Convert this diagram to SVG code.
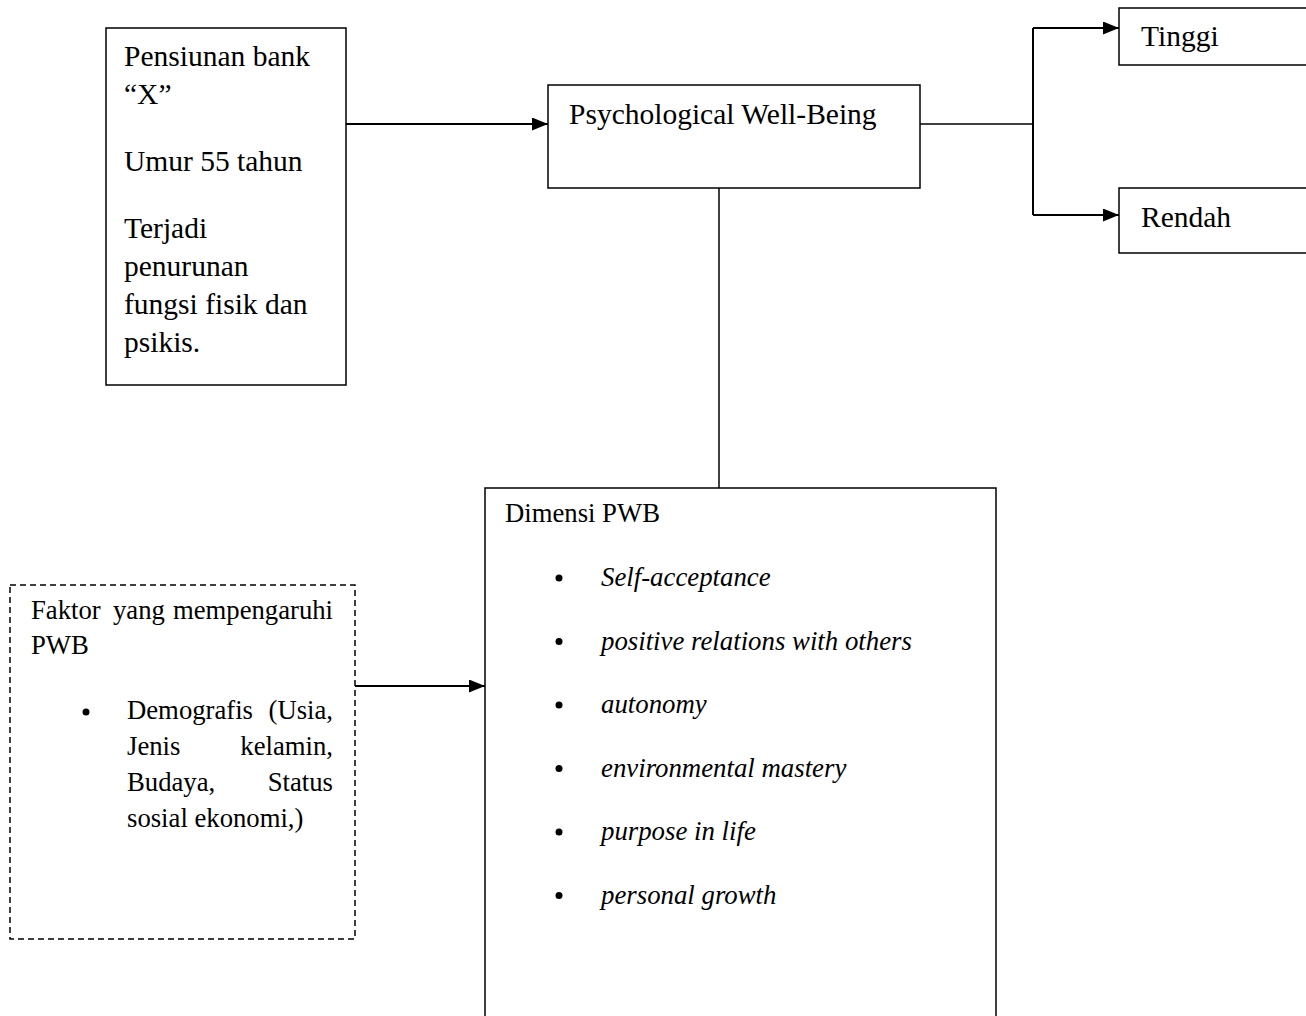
<svg xmlns="http://www.w3.org/2000/svg" width="1306" height="1016" viewBox="0 0 1306 1016">
<style>
.box{fill:#fff;stroke:#000;stroke-width:1.5}
.dash{fill:#fff;stroke:#000;stroke-width:1.5;stroke-dasharray:6 4}
.t{font-family:"Liberation Serif","Times New Roman",serif;font-size:29.5px;fill:#000}
.s{font-family:"Liberation Serif","Times New Roman",serif;font-size:26.7px;fill:#000}
.i{font-style:italic;font-size:26.8px}
.e{text-anchor:end}
.c{fill:none;stroke:#000;stroke-width:2}
</style>
<defs>
<marker id="arr" viewBox="0 0 16 13" refX="16" refY="6.5" markerWidth="16" markerHeight="13" markerUnits="userSpaceOnUse" orient="auto">
<path d="M0,0 L16,6.5 L0,13 Z" fill="#000"/>
</marker>
</defs>
<rect width="1306" height="1016" fill="#fff"/>
<g id="connectors">
<line class="c" x1="346" y1="124" x2="548" y2="124" marker-end="url(#arr)"/>
<line class="c" x1="920" y1="124" x2="1033" y2="124" style="stroke-width:1.5"/>
<line class="c" x1="1033" y1="28" x2="1033" y2="215"/>
<line class="c" x1="1033" y1="28" x2="1119" y2="28" marker-end="url(#arr)"/>
<line class="c" x1="1033" y1="215" x2="1119" y2="215" marker-end="url(#arr)"/>
<line class="c" x1="719" y1="188" x2="719" y2="488" style="stroke-width:1.5"/>
<line class="c" x1="355" y1="686" x2="485" y2="686" marker-end="url(#arr)"/>
</g>
<g id="pensiunan">
<rect class="box" x="106" y="28" width="240" height="357"/>
<text class="t" x="124" y="66">Pensiunan bank</text>
<text class="t" x="124" y="104">“X”</text>
<text class="t" x="124" y="171">Umur 55 tahun</text>
<text class="t" x="124" y="238">Terjadi</text>
<text class="t" x="124" y="276">penurunan</text>
<text class="t" x="124" y="314">fungsi fisik dan</text>
<text class="t" x="124" y="352">psikis.</text>
</g>
<g id="pwb">
<rect class="box" x="548" y="85" width="372" height="103"/>
<text class="t" x="569" y="124">Psychological Well-Being</text>
</g>
<g id="tinggi">
<rect class="box" x="1119" y="8" width="200" height="57"/>
<text class="t" x="1141" y="46">Tinggi</text>
</g>
<g id="rendah">
<rect class="box" x="1119" y="188" width="200" height="65"/>
<text class="t" x="1141" y="227">Rendah</text>
</g>
<g id="dimensi">
<rect class="box" x="485" y="488" width="511" height="560"/>
<text class="s" x="505" y="522">Dimensi PWB</text>
<g fill="#000">
<circle cx="559" cy="578" r="3.5"/>
<circle cx="559" cy="641.5" r="3.5"/>
<circle cx="559" cy="705" r="3.5"/>
<circle cx="559" cy="768.5" r="3.5"/>
<circle cx="559" cy="832" r="3.5"/>
<circle cx="559" cy="895.5" r="3.5"/>
</g>
<text class="s i" x="601" y="586">Self-acceptance</text>
<text class="s i" x="601" y="649.5">positive relations with others</text>
<text class="s i" x="601" y="713">autonomy</text>
<text class="s i" x="601" y="776.5">environmental mastery</text>
<text class="s i" x="601" y="840">purpose in life</text>
<text class="s i" x="601" y="903.5">personal growth</text>
</g>
<g id="faktor">
<rect class="dash" x="10" y="585" width="345" height="354"/>
<text class="s" x="31" y="619">Faktor</text>
<text class="s" x="113" y="619">yang</text>
<text class="s e" x="333" y="619">mempengaruhi</text>
<text class="s" x="31" y="654">PWB</text>
<circle cx="86" cy="712" r="3.5" fill="#000"/>
<text class="s" x="127" y="719">Demografis</text>
<text class="s e" x="333" y="719">(Usia,</text>
<text class="s" x="127" y="755">Jenis</text>
<text class="s e" x="333" y="755">kelamin,</text>
<text class="s" x="127" y="791">Budaya,</text>
<text class="s e" x="333" y="791">Status</text>
<text class="s" x="127" y="827">sosial ekonomi,)</text>
</g>
</svg>
